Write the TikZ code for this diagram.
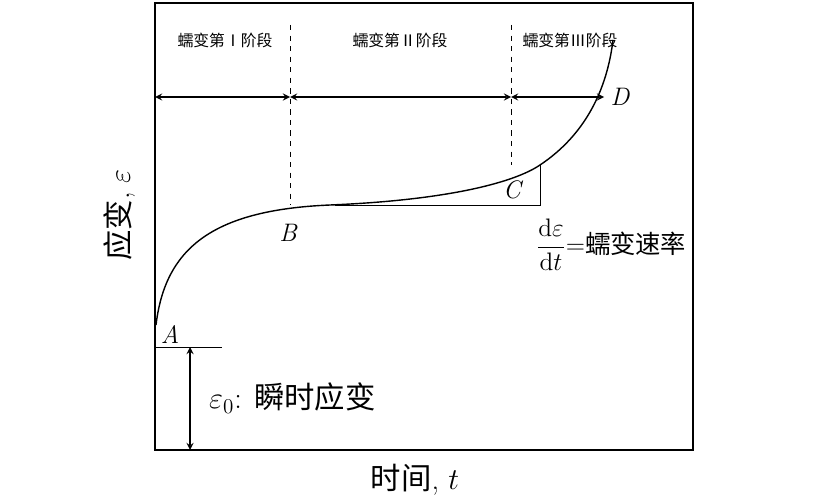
\documentclass[tikz,border=0pt]{standalone}
\usepackage{fontspec}
\newfontfamily\cjk{Noto Sans CJK SC}
\usetikzlibrary{positioning}

\begin{document}
\begin{tikzpicture}[x=0.02cm, y=-0.02cm, >=stealth,
    stage/.style={font=\cjk\small},
    pt/.style={font=\Large\itshape},
    span/.style={<->, thick}]
    \useasboundingbox (0,0) rectangle (838,500);

    % === FRAME ===
    \draw[thick] (155,3) rectangle (693,450);

    % Stage borders
    \coordinate (b1) at (290,25);
    \coordinate (b2) at (511,25);
    \draw[dashed] (b1) -- (290,205);
    \draw[dashed] (b2) -- (511,165);
    \node[stage] (s1) at (225,40) {蠕变第Ⅰ阶段};
    \node[stage] (s2) at (400,40) {蠕变第Ⅱ阶段};
    \node[stage] (s3) at (570,40) {蠕变第Ⅲ阶段};

    % Stage spans
    \coordinate (L) at (155,97);
    \coordinate (M1) at (290,97);
    \coordinate (M2) at (511,97);
    \coordinate (R) at (604,97);
    \draw[span] (L) -- (M1);
    \draw[span] (M1) -- (M2);
    \draw[span] (M2) -- (R);

    % === CREEP CURVE ===
    \coordinate (A) at (156,325);
    \coordinate (B) at (330,205);
    \coordinate (C) at (540,165);
    \coordinate (D) at (613,40);
    \draw[thick] (A) .. controls (165,250) and (210,210) .. (B)
        .. controls (450,200) and (515,182) .. (C)
        .. controls (585,135) and (607,90) .. (D);

    % Slope triangle
    \coordinate (T) at (540,205);
    \draw (335,205) -- (T) -- (C);

    \node[pt] (lA) at (170,334) {A};
    \node[pt] (lB) at (288,233) {B};
    \node[pt] (lC) at (512,190) {C};
    \node[pt] (lD) at (620,97) {D};

    \node[font=\Large, anchor=west] (rate) at (530,245)
        {$\displaystyle\frac{\mathrm{d}\varepsilon}{\mathrm{d}t}$={\cjk 蠕变速率}};

    % === INSTANT STRAIN ===
    \coordinate (A0) at (222,347);
    \draw (155,347) -- (A0);
    \coordinate (e1) at (190,347);
    \coordinate (e2) at (190,450);
    \draw[span] (e1) -- (e2);
    \node[font=\LARGE, anchor=west] (inst) at (203,398) {$\varepsilon_0$: {\cjk 瞬时应变}};

    % Axis labels
    \node[font=\LARGE, rotate=90] (ylab) at (120,215) {{\cjk 应变}, $\varepsilon$};
    \node[font=\LARGE] (xlab) at (415,480) {{\cjk 时间}, $t$};
\end{tikzpicture}
\end{document}
